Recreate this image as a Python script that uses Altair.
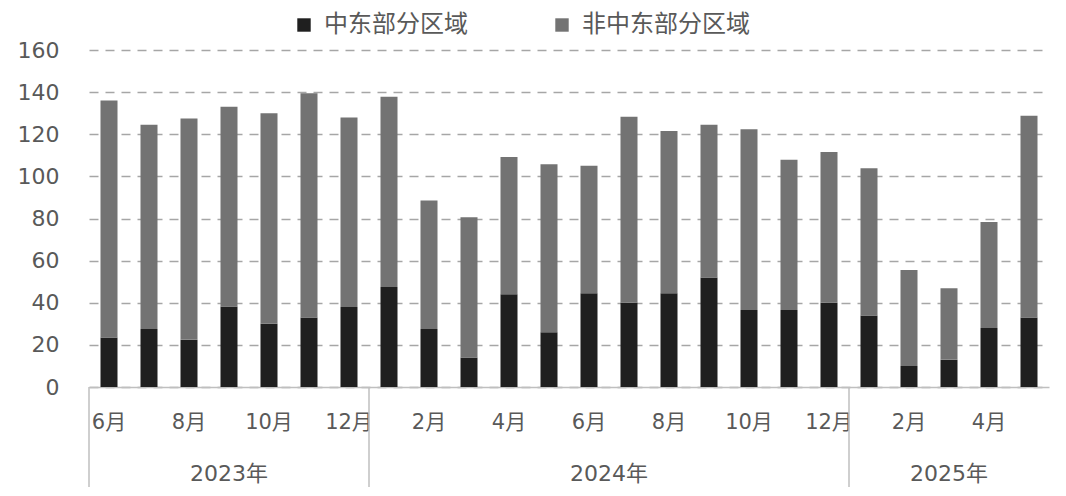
import altair as alt
import pandas as pd

months = ["2023-06", "2023-07", "2023-08", "2023-09", "2023-10", "2023-11", "2023-12",
          "2024-01", "2024-02", "2024-03", "2024-04", "2024-05", "2024-06", "2024-07",
          "2024-08", "2024-09", "2024-10", "2024-11", "2024-12",
          "2025-01", "2025-02", "2025-03", "2025-04", "2025-05"]
middle_east = [23.5, 27.5, 22.5, 38.2, 30, 33, 38, 47.5, 27.5, 14, 44, 26, 44.5, 40,
               44.5, 52, 36.5, 36.5, 40, 34, 10, 13, 28, 33]
non_middle_east = [112.5, 97, 105, 94.8, 100, 106.5, 90, 90.3, 61, 66.6, 65.2, 79.8, 60.5, 88.3,
                   77, 72.5, 85.9, 71.4, 71.6, 69.9, 45.6, 33.9, 50.3, 95.8]
series_names = ["中东部分区域", "非中东部分区域"]
series_colors = ["#1f1f1f", "#737373"]

year_labels = ["2023年", "2024年", "2025年"]
year_anchor = ["2023-09", "2024-06", "2025-03"]
year_band = [0.5, 1.0, 0.5]
year_starts = ["2023-06", "2024-01", "2025-01"]

FONT = "DejaVu Sans, Noto Sans CJK SC"
CJK = "Noto Sans CJK SC"
TXT = "#595959"
W, H = 960, 337

rows = []
for m, a, b in zip(months, middle_east, non_middle_east):
    rows.append({"key": m, "series": series_names[0], "value": a, "ord": 0})
    rows.append({"key": m, "series": series_names[1], "value": b, "ord": 1})
df = pd.DataFrame(rows)

xscale = alt.Scale(domain=months, paddingInner=0, paddingOuter=0)

bars = alt.Chart(df).mark_bar(width=17).encode(
    x=alt.X("key:N", scale=xscale, sort=months, title=None,
            axis=alt.Axis(labelExpr="toNumber(slice(datum.value,5)) % 2 == 0 ? toNumber(slice(datum.value,5)) + '月' : ''",
                          labelAngle=0, labelFontSize=21, labelFont=FONT, labelColor=TXT,
                          labelPadding=24, ticks=False, domainColor="#bfbfbf",
                          domainWidth=1.5, labelOverlap=False, grid=False)),
    y=alt.Y("value:Q", stack="zero", scale=alt.Scale(domain=[0, 160], nice=False),
            title=None,
            axis=alt.Axis(values=list(range(0, 161, 20)), labelFontSize=22, labelFont=FONT,
                          labelColor=TXT, labelPadding=30, ticks=False, domain=False,
                          grid=True, gridDash=[9, 7], gridColor="#a6a6a6", gridWidth=1.4)),
    color=alt.Color("series:N", scale=alt.Scale(domain=series_names, range=series_colors),
                    legend=alt.Legend(title=None, orient="none", legendX=200, legendY=-40,
                                      direction="horizontal", symbolType="square",
                                      symbolSize=180, symbolStrokeWidth=0, padding=3,
                                      labelFontSize=24, labelFont=CJK, labelColor=TXT,
                                      labelBaseline="middle", labelOffset=8,
                                      columnPadding=82, labelLimit=400)),
    order=alt.Order("ord:Q", sort="ascending"),
)

ydf = pd.DataFrame({"key": year_anchor, "label": year_labels, "band": year_band})
year_text_mid = alt.Chart(ydf[ydf["band"] == 0.5]).mark_text(
    fontSize=22, font=FONT, color=TXT, baseline="middle").encode(
    x=alt.X("key:N", scale=xscale, sort=months, bandPosition=0.5),
    y=alt.value(H + 87),
    text="label:N",
)
year_text_edge = alt.Chart(ydf[ydf["band"] == 1.0]).mark_text(
    fontSize=22, font=FONT, color=TXT, baseline="middle").encode(
    x=alt.X("key:N", scale=xscale, sort=months, bandPosition=1),
    y=alt.value(H + 87),
    text="label:N",
)

sdf = pd.DataFrame({"key": year_starts})
seps = alt.Chart(sdf).mark_rule(color="#bfbfbf", strokeWidth=1.5).encode(
    x=alt.X("key:N", scale=xscale, sort=months, bandPosition=0),
    y=alt.value(H),
    y2=alt.value(H + 110),
)

chart = alt.layer(bars, seps, year_text_mid, year_text_edge).properties(
    width=W, height=H,
    background="white",
    autosize=alt.AutoSizeParams(type="none"),
    padding={"left": 81, "top": 42, "right": 9, "bottom": 100},
).configure_view(strokeWidth=0, stroke="transparent")

chart.save("out.html", embed_options={"renderer": "svg", "actions": False})
